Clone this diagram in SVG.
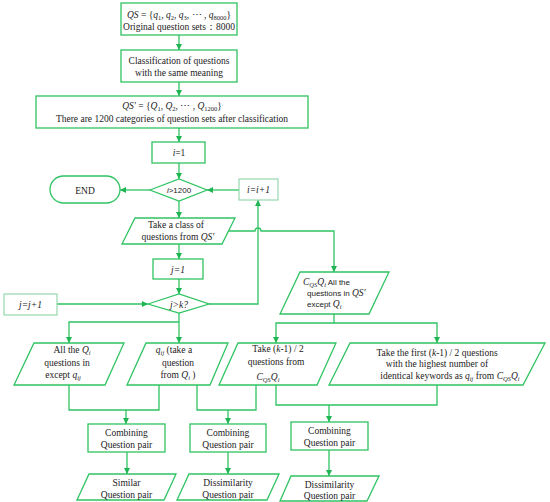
<svg xmlns="http://www.w3.org/2000/svg" width="550" height="502" viewBox="0 0 550 502">
<style>
.bx{fill:#fff;stroke:#2fc462;stroke-width:1.3}
.gb{fill:#fff;stroke:#8ad6a6;stroke-width:1.1}
.ln{fill:none;stroke:#2fc462;stroke-width:1.3}
text{font-family:"Liberation Serif","Times New Roman",serif;font-size:9.5px;fill:#222}
.c{text-anchor:middle}
.m{font-style:italic}
.sn{font-family:"Liberation Sans",Arial,sans-serif;font-size:8px}
</style>
<defs>
<marker id="ah" viewBox="0 0 10 10" refX="10" refY="5" markerWidth="7" markerHeight="6" markerUnits="userSpaceOnUse" orient="auto"><path d="M0,0 L10,5 L0,10 z" fill="#1fb553"/></marker>
</defs>

<g id="connectors">
<path class="ln" d="M179,35 V50" marker-end="url(#ah)"/>
<path class="ln" d="M179,82 V96" marker-end="url(#ah)"/>
<path class="ln" d="M179,128 V142" marker-end="url(#ah)"/>
<path class="ln" d="M179,163 V179" marker-end="url(#ah)"/>
<path class="ln" d="M150,190 H120" marker-end="url(#ah)"/>
<path class="ln" d="M239,190 H207" marker-end="url(#ah)"/>
<path class="ln" d="M179,201 V218" marker-end="url(#ah)"/>
<path class="ln" d="M228,231 H255 A3,3 0 0 1 261,231 H334 V272" marker-end="url(#ah)"/>
<path class="ln" d="M179,244 V259" marker-end="url(#ah)"/>
<path class="ln" d="M179,279 V294" marker-end="url(#ah)"/>
<path class="ln" d="M57,304 H148" marker-end="url(#ah)"/>
<path class="ln" d="M209,304 H258 V200" marker-end="url(#ah)"/>
<path class="ln" d="M179,313 V343" marker-end="url(#ah)"/>
<path class="ln" d="M179,322 H69 V343" marker-end="url(#ah)"/>
<path class="ln" d="M334,314 V323 H276 V343" marker-end="url(#ah)"/>
<path class="ln" d="M334,323 H437 V343" marker-end="url(#ah)"/>
<path class="ln" d="M69,385 V410 H159 V385"/>
<path class="ln" d="M126,410 V424" marker-end="url(#ah)"/>
<path class="ln" d="M197,385 V410 H256 V385"/>
<path class="ln" d="M228,410 V424" marker-end="url(#ah)"/>
<path class="ln" d="M276,385 V405 H437 V385"/>
<path class="ln" d="M329,405 V422" marker-end="url(#ah)"/>
<path class="ln" d="M127,452 V474" marker-end="url(#ah)"/>
<path class="ln" d="M228,452 V474" marker-end="url(#ah)"/>
<path class="ln" d="M329,450 V476" marker-end="url(#ah)"/>
</g>

<g id="n-qs">
<rect class="bx" x="121" y="3" width="116" height="32"/>
<text class="c" x="179" y="18"><tspan class="m">QS</tspan> = {<tspan class="m">q</tspan><tspan font-size="6.5" dy="2">1</tspan><tspan dy="-2">, </tspan><tspan class="m">q</tspan><tspan font-size="6.5" dy="2">2</tspan><tspan dy="-2">, </tspan><tspan class="m">q</tspan><tspan font-size="6.5" dy="2">3</tspan><tspan dy="-2">, ⋯ , </tspan><tspan class="m">q</tspan><tspan font-size="6.5" dy="2">8000</tspan><tspan dy="-2">}</tspan></text>
<text class="c" x="179" y="30">Original question sets：8000</text>
</g>

<g id="n-class">
<rect class="bx" x="121" y="50" width="116" height="32"/>
<text class="c" x="179" y="64">Classification of questions</text>
<text class="c" x="179" y="76">with the same meaning</text>
</g>

<g id="n-qs2">
<rect class="bx" x="36" y="96" width="272" height="32"/>
<text class="c" x="172" y="109"><tspan class="m">QS′</tspan> = {<tspan class="m">Q</tspan><tspan font-size="6.5" dy="2">1</tspan><tspan dy="-2">, </tspan><tspan class="m">Q</tspan><tspan font-size="6.5" dy="2">2</tspan><tspan dy="-2">, ⋯ , </tspan><tspan class="m">Q</tspan><tspan font-size="6.5" dy="2">1200</tspan><tspan dy="-2">}</tspan></text>
<text class="c" x="172" y="122">There are 1200 categories of  question sets after classification</text>
</g>

<g id="n-i1">
<rect class="bx" x="152" y="142" width="53" height="21"/>
<text class="c" x="179" y="156"><tspan class="m">i</tspan>=1</text>
</g>

<g id="n-dec-i">
<polygon class="bx" points="150,190 179,179 207,190 179,201"/>
<text class="c sn" x="179" y="193" font-size="9"><tspan class="m">i</tspan>&gt;1200</text>
</g>

<g id="n-end">
<rect class="bx" x="50" y="176" width="70" height="27" rx="13.5"/>
<text class="c" x="85" y="193.5" font-size="10">END</text>
</g>

<g id="n-iinc">
<rect class="gb" x="239" y="179" width="39" height="21"/>
<text class="c m" x="258.5" y="193">i=i+1</text>
</g>

<g id="n-take">
<polygon class="bx" points="135,218 235,218 222,244 122,244"/>
<text class="c" x="176" y="228">Take a class of</text>
<text class="c" x="178" y="240">questions from <tspan class="m">QS′</tspan></text>
</g>

<g id="n-j1">
<rect class="bx" x="153" y="259" width="50" height="20"/>
<text class="c m" x="178" y="272.5">j=1</text>
</g>

<g id="n-dec-j">
<polygon class="bx" points="148,304 179,294 209,304 179,313"/>
<text class="c m" x="179" y="307.5">j&gt;k?</text>
</g>

<g id="n-jinc">
<rect class="gb" x="4" y="294" width="53" height="21"/>
<text class="c m" x="30.5" y="307.5">j=j+1</text>
</g>

<g id="n-cqs">
<polygon class="bx" points="300,272 389,272 369,314 280,314"/>
<text x="303" y="285"><tspan class="m">C</tspan><tspan class="m" font-size="6.5" dy="2">QS</tspan><tspan class="m" dy="-2">Q</tspan><tspan class="m" font-size="6.5" dy="2">i</tspan><tspan class="sn" dy="-2">   All the</tspan></text>
<text x="307" y="296"><tspan class="sn">questions in </tspan><tspan class="m">QS′</tspan></text>
<text x="307" y="307"><tspan class="sn">except   </tspan><tspan class="m">Q</tspan><tspan class="m" font-size="6.5" dy="2">i</tspan></text>
</g>

<g id="n-p1">
<polygon class="bx" points="34,343 124,343 105,385 14,385"/>
<text class="c" x="72" y="353">All the  <tspan class="m">Q</tspan><tspan class="m" font-size="6.5" dy="2">i</tspan></text>
<text class="c" x="67" y="366">questions in</text>
<text class="c" x="63" y="378">except   <tspan class="m">q</tspan><tspan class="m" font-size="6.5" dy="2">ij</tspan></text>
</g>

<g id="n-p2">
<polygon class="bx" points="146,343 228,343 210,385 127,385"/>
<text class="c" x="174" y="353"><tspan class="m">q</tspan><tspan class="m" font-size="6.5" dy="2">ij</tspan><tspan dy="-2"> (take a</tspan></text>
<text class="c" x="178" y="366">question</text>
<text class="c" x="178" y="378">from  <tspan class="m">Q</tspan><tspan class="m" font-size="6.5" dy="2">i</tspan><tspan dy="-2">   )</tspan></text>
</g>

<g id="n-p3">
<polygon class="bx" points="238,343 336,343 317,385 219,385"/>
<text class="c" x="278" y="352">Take  (<tspan class="m">k</tspan>-1) / 2</text>
<text class="c" x="276" y="365">questions from</text>
<text class="c" x="268" y="380"><tspan class="m">C</tspan><tspan class="m" font-size="6.5" dy="2">QS</tspan><tspan class="m" dy="-2">Q</tspan><tspan class="m" font-size="6.5" dy="2">i</tspan></text>
</g>

<g id="n-p4">
<polygon class="bx" points="350,343 545,343 523,385 329,385"/>
<text class="c" x="437" y="356">Take the first (<tspan class="m">k</tspan>-1) / 2 questions</text>
<text class="c" x="437" y="367">with the highest number of</text>
<text class="c" x="450" y="379">identical keywords as <tspan class="m">q</tspan><tspan class="m" font-size="6.5" dy="2">ij</tspan><tspan dy="-2">  from </tspan><tspan class="m">C</tspan><tspan class="m" font-size="6.5" dy="2">QS</tspan><tspan class="m" dy="-2">Q</tspan><tspan class="m" font-size="6.5" dy="2">i</tspan></text>
</g>

<g id="n-comb1">
<rect class="bx" x="88" y="424" width="77" height="28"/>
<text class="c" x="126.5" y="435.5">Combining</text>
<text class="c" x="126.5" y="447.5">Question pair</text>
</g>
<g id="n-comb2">
<rect class="bx" x="190" y="424" width="76" height="28"/>
<text class="c" x="228" y="435.5">Combining</text>
<text class="c" x="228" y="447.5">Question pair</text>
</g>
<g id="n-comb3">
<rect class="bx" x="291" y="422" width="77" height="28"/>
<text class="c" x="329.5" y="433.5">Combining</text>
<text class="c" x="329.5" y="445.5">Question pair</text>
</g>

<g id="n-out1">
<polygon class="bx" points="89,474 176,474 164,500 77,500"/>
<text class="c" x="126.5" y="486">Similar</text>
<text class="c" x="126.5" y="498">Question pair</text>
</g>
<g id="n-out2">
<polygon class="bx" points="189,474 279,474 267,500 177,500"/>
<text class="c" x="228" y="486">Dissimilarity</text>
<text class="c" x="228" y="498">Question pair</text>
</g>
<g id="n-out3">
<polygon class="bx" points="291,476 379,476 367,501 280,501"/>
<text class="c" x="329.5" y="487.5">Dissimilarity</text>
<text class="c" x="329.5" y="499">Question pair</text>
</g>
</svg>
